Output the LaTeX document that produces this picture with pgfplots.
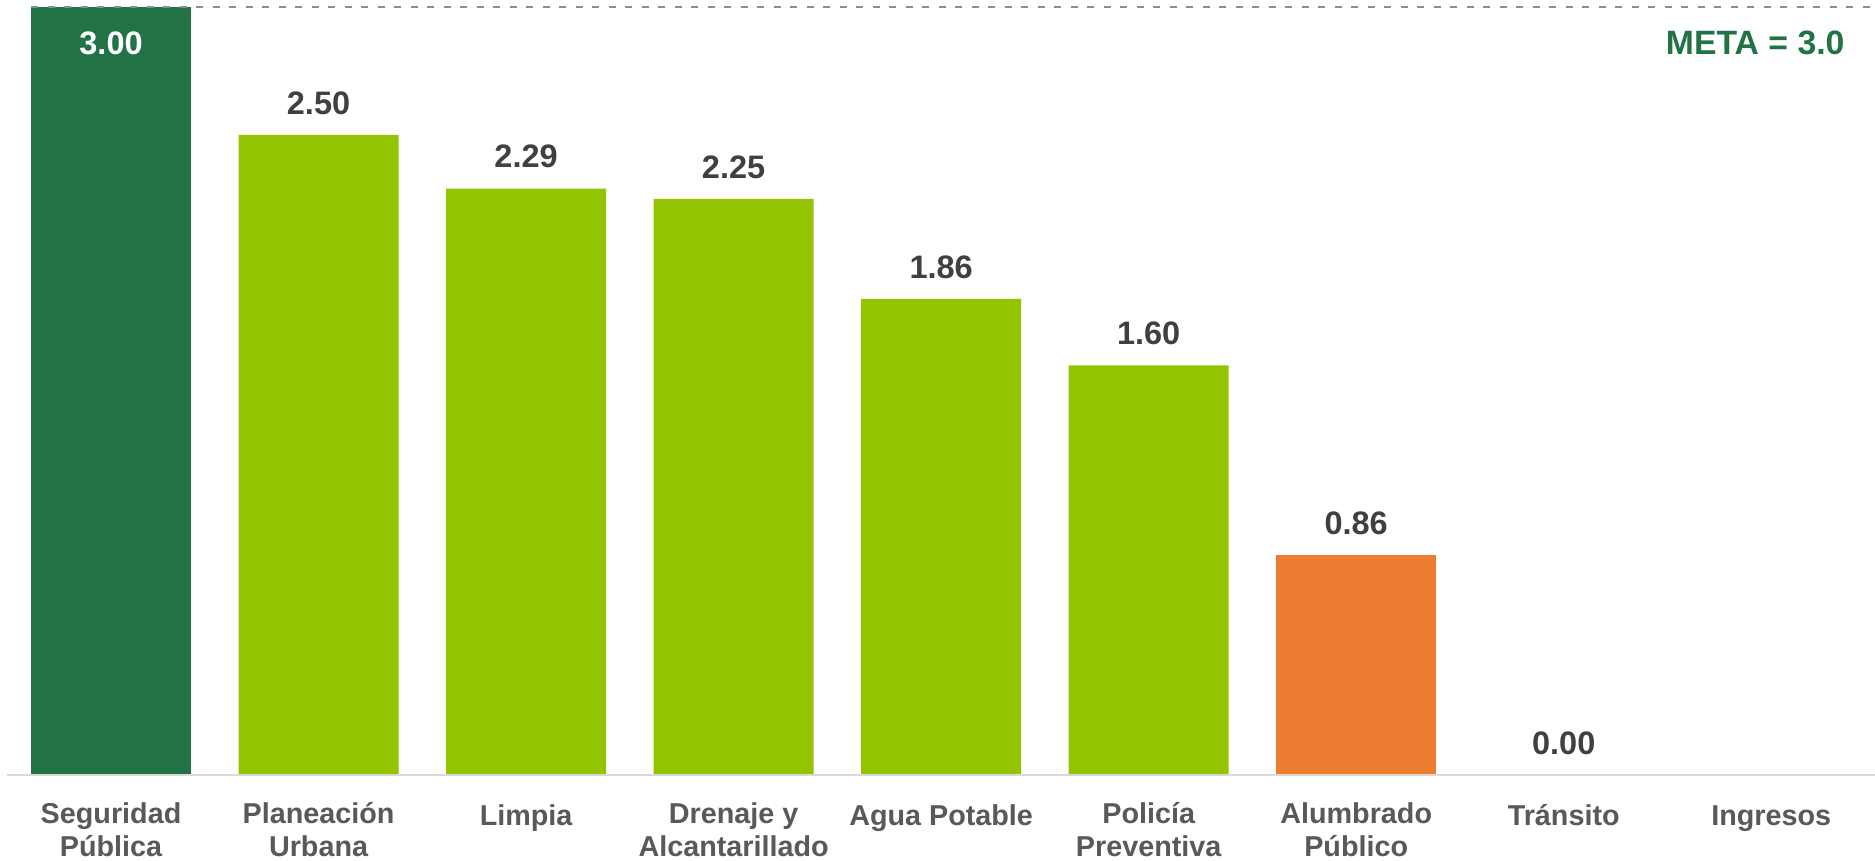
\documentclass[border=0pt]{standalone}
\usepackage{fontspec}
\setmainfont{Liberation Sans}
\usepackage{pgfplots}
\pgfplotsset{compat=1.18}

\definecolor{darkgreen}{HTML}{217346}
\definecolor{lightgreen}{HTML}{92C400}
\definecolor{orangebar}{HTML}{ED7D31}
\definecolor{labelgray}{HTML}{595959}
\definecolor{valuegray}{HTML}{404040}
\definecolor{dashgray}{HTML}{8C8C8C}
\definecolor{basegray}{HTML}{D9D9D9}

\begin{document}
\begin{tikzpicture}
\useasboundingbox (0,-34.4pt) rectangle (750pt,310pt);
\begin{axis}[
  at={(0,0)}, anchor=south west,
  scale only axis,
  width=750pt, height=310pt,
  xmin=-0.535, xmax=8.5,
  ymin=0, ymax=3.0273,
  ybar, bar width=0.771,
  axis line style={draw=none},
  ytick=\empty,
  xtick={0,...,8},
  xticklabels={
    {Seguridad\\Pública},
    {Planeación\\Urbana},
    {Limpia},
    {Drenaje y\\Alcantarillado},
    {Agua Potable},
    {Policía\\Preventiva},
    {Alumbrado\\Público},
    {Tránsito},
    {Ingresos}},
  xticklabel style={align=center, anchor=north, inner sep=0pt,
    font=\bfseries\fontsize{11.5}{13.2}\selectfont, text=labelgray,
    execute at begin node=\strut, yshift=-10.8pt},
  major tick length=0pt,
  clip=false,
  /pgf/number format/assume math mode=true,
  nodes near coords={\pgfmathprintnumber[fixed,fixed zerofill,precision=2]{\pgfplotspointmeta}},
  every node near coord/.append style={font=\bfseries\fontsize{13}{15}\selectfont,
    text=valuegray, inner sep=0pt, anchor=south, yshift=8pt},
]

% Seguridad Publica, label inside the bar
\addplot[fill=darkgreen, draw=none, bar shift=0pt,
  every node near coord/.append style={text=white, anchor=north, yshift=-17.8pt}]
  coordinates {(0,3.00)};

\addplot[fill=lightgreen, draw=none, bar shift=0pt]
  coordinates {(1,2.50) (2,2.29) (3,2.25) (4,1.86) (5,1.60)};

\addplot[fill=orangebar, draw=none, bar shift=0pt]
  coordinates {(6,0.86)};

% Transito: no bar, only the value
\addplot[fill=none, draw=none, bar shift=0pt]
  coordinates {(7,0.00)};

\draw[basegray, line width=1pt] (axis cs:-0.5,0) -- (axis cs:8.5,0);
\draw[dashgray, line width=1.1pt, dash pattern=on 2.8pt off 3.8pt]
  (axis cs:-0.385,3) -- (axis cs:8.5,3);
\node[anchor=east, inner sep=0pt, text=darkgreen,
  font=\bfseries\fontsize{13.5}{15}\selectfont]
  at (axis cs:8.355,2.86) {META = 3.0};
\end{axis}
\end{tikzpicture}
\end{document}
